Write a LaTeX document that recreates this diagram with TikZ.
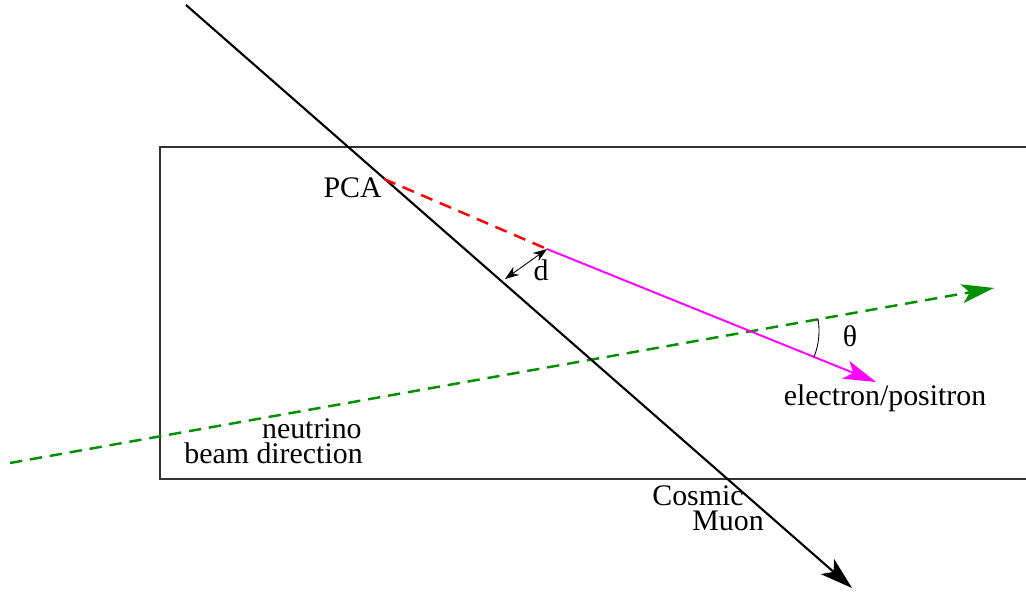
\documentclass[tikz,border=0pt]{standalone}
\usepackage{fontspec}
\setmainfont{Liberation Serif}
\usepackage{xcolor}
\usetikzlibrary{arrows.meta}

\definecolor{beamgreen}{RGB}{0,144,0}
\definecolor{trackmag}{RGB}{255,0,255}
\definecolor{extrapred}{RGB}{255,0,0}

\begin{document}
\begin{tikzpicture}[
    x=0.02cm, y=-0.02cm,
    lab/.style={font=\fontsize{17pt}{14.2pt}\selectfont, inner sep=0pt},
    box/.style={draw=black!80, line width=0.7pt},
    muon/.style={draw=black, line width=1.2pt, -{Stealth[length=6.5mm, width=4mm, inset=1.6mm]}},
    beam/.style={draw=beamgreen, line width=1.4pt, dash pattern=on 7pt off 4.5pt, -{Stealth[length=6.5mm, width=3.8mm, inset=1.6mm]}},
    extrap/.style={draw=extrapred, line width=1.4pt, dash pattern=on 7pt off 4.5pt},
    track/.style={draw=trackmag, line width=1.1pt, -{Stealth[length=6.5mm, width=3.8mm, inset=1.6mm]}},
    dist/.style={draw=black, line width=0.5pt, {Stealth[length=2.8mm, width=2mm]}-{Stealth[length=2.8mm, width=2mm]}},
    ang/.style={draw=black, line width=0.5pt}
]
\useasboundingbox (0,0) rectangle (1026,594);

% detector
\draw[box] (1026,147) -- (160,147) -- (160,479) -- (1026,479);

\coordinate (mu0) at (186,5);
\coordinate (mu1) at (852,588);
\coordinate (pca) at (384,179);
\coordinate (e0) at (547,249);
\coordinate (e1) at (876,382);
\coordinate (g0) at (10,463);
\coordinate (g1) at (994,288);
\coordinate (dfoot) at (505,279);
\coordinate (vtx) at (749,331);

\draw[beam] (g0) -- (g1);
\draw[muon] (mu0) -- (mu1);
\draw[extrap] (pca) -- (e0);
\draw[track] (e0) -- (e1);
\draw[dist] (e0) -- (dfoot);
\draw[ang] (vtx) ++(-10:70) arc[start angle=-10, end angle=22, radius=70];

\node[lab, anchor=base east] (pcalab) at (382,198) {PCA};
\node[lab, anchor=base] (dlab) at (541,280) {d};
\node[lab, anchor=base] (thlab) at (850,346) {θ};
\node[lab, anchor=base] (elab) at (885,405) {electron/positron};
\node[lab, anchor=base east] (nulab) at (362,438) {neutrino};
\node[lab, anchor=base east] (bdlab) at (363,463) {beam direction};
\node[lab, anchor=base west] (coslab) at (652,505) {Cosmic};
\node[lab, anchor=base west] (mulab) at (692,530) {Muon};
\end{tikzpicture}
\end{document}
